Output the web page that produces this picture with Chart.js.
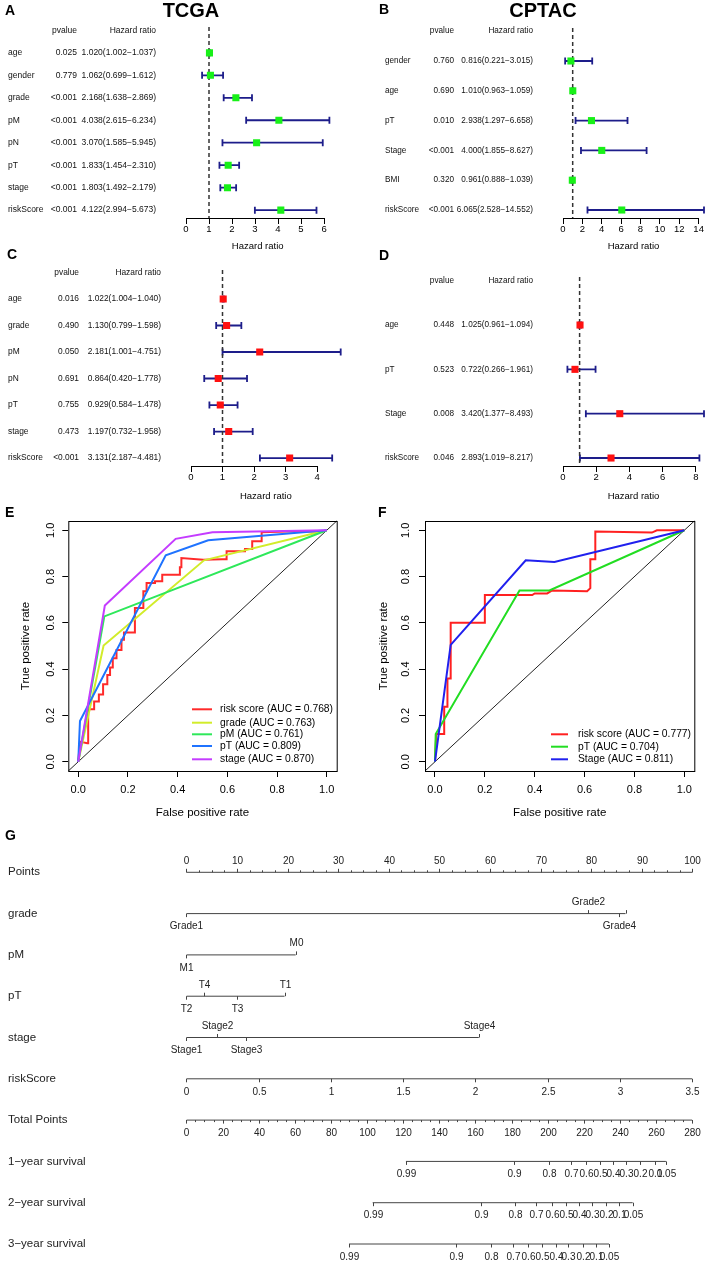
<!DOCTYPE html>
<html>
<head>
<meta charset="utf-8">
<script src="https://cdn.jsdelivr.net/npm/chart.js@4.4.1/dist/chart.umd.min.js"></script>
<style>
  body { margin: 0; background: #fff; }
  #wrap { position: relative; width: 709px; height: 1261px; overflow: hidden; background: #fff; }
  canvas { position: absolute; }
  .lab { position: absolute; font: bold 14px "Liberation Sans", Arial, sans-serif; line-height: 14px; color: #000; }
  .ttl { position: absolute; width: 120px; text-align: center; font: bold 20px "Liberation Sans", Arial, sans-serif; line-height: 20px; color: #000; }
</style>
</head>
<body>
<div id="wrap">
  <canvas id="fa" width="355" height="255" style="left:0;top:0"></canvas>
  <canvas id="fb" width="354" height="255" style="left:355px;top:0"></canvas>
  <canvas id="fc" width="355" height="270" style="left:0;top:235px"></canvas>
  <canvas id="fd" width="354" height="270" style="left:355px;top:235px"></canvas>
  <canvas id="re" width="355" height="325" style="left:0;top:500px"></canvas>
  <canvas id="rf" width="354" height="325" style="left:355px;top:500px"></canvas>
  <canvas id="nomo" width="709" height="421" style="left:0;top:840px"></canvas>

  <div class="lab" style="left:5px;top:3px">A</div>
  <div class="lab" style="left:379px;top:2px">B</div>
  <div class="lab" style="left:7px;top:247px">C</div>
  <div class="lab" style="left:379px;top:248px">D</div>
  <div class="lab" style="left:5px;top:505px">E</div>
  <div class="lab" style="left:378px;top:505px">F</div>
  <div class="lab" style="left:5px;top:828px">G</div>
  <div class="ttl" style="left:131px;top:0">TCGA</div>
  <div class="ttl" style="left:483px;top:0">CPTAC</div>
</div>
<script>
Chart.defaults.font.family = '"Liberation Sans", Arial, sans-serif'
Chart.defaults.color = '#000'

// ---- A: TCGA univariate Cox ----
const tcgaUniVars = ['age', 'gender', 'grade', 'pM', 'pN', 'pT', 'stage', 'riskScore']
const tcgaUniP    = ['0.025', '0.779', '<0.001', '<0.001', '<0.001', '<0.001', '<0.001', '<0.001']
const tcgaUniHR   = [1.020, 1.062, 2.168, 4.038, 3.070, 1.833, 1.803, 4.122]
const tcgaUniLow  = [1.002, 0.699, 1.638, 2.615, 1.585, 1.454, 1.492, 2.994]
const tcgaUniHigh = [1.037, 1.612, 2.869, 6.234, 5.945, 2.310, 2.179, 5.673]
const tcgaUniTicks = [0, 1, 2, 3, 4, 5, 6]

// ---- B: CPTAC univariate Cox ----
const cptacUniVars = ['gender', 'age', 'pT', 'Stage', 'BMI', 'riskScore']
const cptacUniP    = ['0.760', '0.690', '0.010', '<0.001', '0.320', '<0.001']
const cptacUniHR   = [0.816, 1.010, 2.938, 4.000, 0.961, 6.065]
const cptacUniLow  = [0.221, 0.963, 1.297, 1.855, 0.888, 2.528]
const cptacUniHigh = [3.015, 1.059, 6.658, 8.627, 1.039, 14.552]
const cptacUniTicks = [0, 2, 4, 6, 8, 10, 12, 14]

// ---- C: TCGA multivariate Cox ----
const tcgaMultiVars = ['age', 'grade', 'pM', 'pN', 'pT', 'stage', 'riskScore']
const tcgaMultiP    = ['0.016', '0.490', '0.050', '0.691', '0.755', '0.473', '<0.001']
const tcgaMultiHR   = [1.022, 1.130, 2.181, 0.864, 0.929, 1.197, 3.131]
const tcgaMultiLow  = [1.004, 0.799, 1.001, 0.420, 0.584, 0.732, 2.187]
const tcgaMultiHigh = [1.040, 1.598, 4.751, 1.778, 1.478, 1.958, 4.481]
const tcgaMultiTicks = [0, 1, 2, 3, 4]

// ---- D: CPTAC multivariate Cox ----
const cptacMultiVars = ['age', 'pT', 'Stage', 'riskScore']
const cptacMultiP    = ['0.448', '0.523', '0.008', '0.046']
const cptacMultiHR   = [1.025, 0.722, 3.420, 2.893]
const cptacMultiLow  = [0.961, 0.266, 1.377, 1.019]
const cptacMultiHigh = [1.094, 1.961, 8.493, 8.217]
const cptacMultiTicks = [0, 2, 4, 6, 8]

// ---- E: TCGA ROC ----
const rocTicks = [0, 0.2, 0.4, 0.6, 0.8, 1.0]
const eRiskFpr  = [0, 0.007, 0.036, 0.04, 0.04, 0.064, 0.064, 0.083, 0.083, 0.10, 0.10, 0.117, 0.117, 0.128, 0.128, 0.139, 0.139, 0.154, 0.154, 0.174, 0.174, 0.184, 0.184, 0.228, 0.228, 0.262, 0.262, 0.275, 0.275, 0.309, 0.309, 0.338, 0.338, 0.409, 0.409, 0.415, 0.415, 0.503, 0.58, 0.597, 0.597, 0.671, 0.671, 0.70, 0.70, 0.738, 0.738, 0.84, 0.98, 1]
const eRiskTpr  = [0, 0.087, 0.08, 0.08, 0.227, 0.227, 0.26, 0.26, 0.29, 0.29, 0.335, 0.335, 0.375, 0.375, 0.407, 0.407, 0.447, 0.447, 0.483, 0.483, 0.527, 0.527, 0.558, 0.558, 0.664, 0.664, 0.736, 0.736, 0.772, 0.772, 0.78, 0.78, 0.808, 0.808, 0.84, 0.84, 0.88, 0.873, 0.875, 0.875, 0.909, 0.909, 0.919, 0.919, 0.952, 0.952, 0.991, 0.995, 0.995, 1]
const eGradeFpr = [0, 0.102, 0.506, 1]
const eGradeTpr = [0, 0.502, 0.870, 1]
const ePmFpr    = [0, 0.105, 1]
const ePmTpr    = [0, 0.628, 1]
const ePtFpr    = [0, 0.007, 0.352, 0.523, 1]
const ePtTpr    = [0, 0.176, 0.892, 0.957, 1]
const eStageFpr = [0, 0.107, 0.392, 0.54, 1]
const eStageTpr = [0, 0.675, 0.963, 0.991, 1]
const eNames = ['risk score', 'grade', 'pM', 'pT', 'stage']
const eAuc   = [0.768, 0.763, 0.761, 0.809, 0.870]

// ---- F: CPTAC ROC ----
const fRiskFpr  = [0, 0.005, 0.037, 0.037, 0.05, 0.05, 0.063, 0.063, 0.20, 0.20, 0.39, 0.40, 0.45, 0.47, 0.61, 0.623, 0.623, 0.643, 0.643, 0.87, 0.89, 1]
const fRiskTpr  = [0, 0.12, 0.12, 0.238, 0.238, 0.36, 0.36, 0.60, 0.60, 0.72, 0.72, 0.727, 0.727, 0.74, 0.737, 0.75, 0.875, 0.875, 0.995, 0.99, 1.0, 1]
const fPtFpr    = [0, 0.003, 0.339, 0.459, 1]
const fPtTpr    = [0, 0.12, 0.74, 0.74, 1]
const fStageFpr = [0, 0.063, 0.364, 0.479, 1]
const fStageTpr = [0, 0.505, 0.870, 0.863, 1]
const fNames = ['risk score', 'pT', 'Stage']
const fAuc   = [0.777, 0.704, 0.811]

// ---- G: nomogram ----
const pointsTicks = [0, 10, 20, 30, 40, 50, 60, 70, 80, 90, 100]
const gradeLevels = ['Grade1', 'Grade2', 'Grade4', '']
const gradePts    = [0, 79.3, 85.6, 86.8]
const pmLevels    = ['M1', 'M0']
const pmPts       = [0, 21.6]
const ptLevels    = ['T2', 'T4', 'T3', 'T1']
const ptPts       = [0, 3.4, 10.1, 19.4]
const stageLevels = ['Stage1', 'Stage2', 'Stage3', 'Stage4']
const stagePts    = [0, 6.0, 11.7, 57.8]
const riskTicks   = [0, 0.5, 1, 1.5, 2, 2.5, 3, 3.5]
const totalTicks  = [0, 20, 40, 60, 80, 100, 120, 140, 160, 180, 200, 220, 240, 260, 280]
const survLabels  = ['0.99', '0.9', '0.8', '0.7', '0.6', '0.5', '0.4', '0.3', '0.2', '0.1', '0.05']
const surv1yTotal = [121.5, 181.3, 200.7, 212.6, 221.4, 228.9, 235.9, 243.2, 250.8, 259.1, 265.4]
const surv2yTotal = [103.1, 162.8, 181.6, 193.7, 202.5, 210.0, 217.1, 224.7, 232.2, 239.7, 247.0]
const surv3yTotal = [90.0, 149.4, 168.5, 180.6, 189.2, 196.7, 204.3, 211.3, 219.3, 226.9, 233.9]

const FONT = '"Liberation Sans", Arial, sans-serif'

// forest plot: text columns, whiskers, dashed line at HR = 1
function forestPlugin(o) {
  return {
    id: 'forestDecor',
    beforeDatasetsDraw(chart) {
      const {ctx, chartArea, scales: {x, y}} = chart
      ctx.save()
      ctx.strokeStyle = '#1d1d8a'
      ctx.lineWidth = 1.8
      o.vars.forEach((v, i) => {
        const py = y.getPixelForValue(i)
        const x0 = x.getPixelForValue(o.lo[i])
        const x1 = x.getPixelForValue(o.hi[i])
        ctx.beginPath()
        ctx.moveTo(x0, py); ctx.lineTo(x1, py)
        ctx.moveTo(x0, py - 3.5); ctx.lineTo(x0, py + 3.5)
        ctx.moveTo(x1, py - 3.5); ctx.lineTo(x1, py + 3.5)
        ctx.stroke()
      })
      // reference line
      const px1 = x.getPixelForValue(1)
      ctx.strokeStyle = '#333'
      ctx.lineWidth = 1.5
      ctx.setLineDash([4, 3])
      ctx.beginPath()
      ctx.moveTo(px1, chartArea.top); ctx.lineTo(px1, chartArea.bottom)
      ctx.stroke()
      ctx.restore()
    },
    afterDraw(chart) {
      const {ctx, chartArea, scales: {x, y}} = chart
      ctx.save()
      // axis line only over the tick range
      ctx.strokeStyle = '#000'
      ctx.lineWidth = 1
      ctx.beginPath()
      ctx.moveTo(x.getPixelForValue(o.ticks[0]), chartArea.bottom + 0.5)
      ctx.lineTo(x.getPixelForValue(o.ticks[o.ticks.length - 1]), chartArea.bottom + 0.5)
      ctx.stroke()

      ctx.fillStyle = '#111'
      ctx.font = o.fs + 'px ' + FONT
      ctx.textBaseline = 'middle'
      const hy = y.getPixelForValue(-1)
      ctx.textAlign = 'right'
      ctx.fillText('pvalue', o.colP, hy)
      ctx.fillText('Hazard ratio', o.colHR, hy)
      o.vars.forEach((v, i) => {
        const py = y.getPixelForValue(i)
        ctx.textAlign = 'left'
        ctx.fillText(v, o.colVar, py)
        ctx.textAlign = 'right'
        ctx.fillText(o.p[i], o.colP, py)
        const txt = o.hr[i].toFixed(3) + '(' + o.lo[i].toFixed(3) + '\u2212' + o.hi[i].toFixed(3) + ')'
        ctx.fillText(txt, o.colHR, py)
      })
      ctx.restore()
    }
  }
}

function forest(id, o) {
  new Chart(document.getElementById(id), {
    type: 'scatter',
    data: {
      datasets: [{
        data: o.hr.map((v, i) => ({x: v, y: i})),
        pointStyle: 'rect',
        pointRadius: 5,
        pointHoverRadius: 5,
        backgroundColor: o.color,
        borderWidth: 0
      }]
    },
    options: {
      responsive: false,
      animation: false,
      events: [],
      layout: { padding: { left: o.area.left, right: o.w - o.area.right, top: o.area.top, bottom: 0 } },
      plugins: { legend: { display: false }, tooltip: { enabled: false } },
      scales: {
        x: {
          type: 'linear',
          min: 0,
          max: Math.max(...o.hi),
          afterBuildTicks: s => { s.ticks = o.ticks.map(v => ({value: v})) },
          afterFit: s => { s.height = o.h - o.area.bottom },
          grid: { drawOnChartArea: false, drawTicks: true, tickLength: 6, color: '#000', lineWidth: 1 },
          border: { display: false },
          ticks: { font: { size: 9.5 }, color: '#000', padding: 0, maxRotation: 0, autoSkip: false },
          title: { display: true, text: 'Hazard ratio', font: { size: 9.5 }, color: '#000', padding: { top: 0, bottom: 3.3 } }
        },
        y: { type: 'linear', display: false, reverse: true, min: o.yMin, max: o.yMax }
      }
    },
    plugins: [forestPlugin(o)]
  })
}

forest('fa', {
  vars: tcgaUniVars, p: tcgaUniP, hr: tcgaUniHR, lo: tcgaUniLow, hi: tcgaUniHigh, ticks: tcgaUniTicks,
  color: '#18f018', w: 355, h: 255, area: { left: 186, right: 329.4, top: 27, bottom: 218 },
  yMin: -1.15, yMax: 7.35, fs: 8.5, colVar: 8, colP: 77, colHR: 156
})
forest('fb', {
  vars: cptacUniVars, p: cptacUniP, hr: cptacUniHR, lo: cptacUniLow, hi: cptacUniHigh, ticks: cptacUniTicks,
  color: '#18f018', w: 354, h: 255, area: { left: 208, right: 352.5, top: 28, bottom: 218 },
  yMin: -1.107, yMax: 5.268, fs: 8.2, colVar: 30, colP: 99, colHR: 178
})
forest('fc', {
  vars: tcgaMultiVars, p: tcgaMultiP, hr: tcgaMultiHR, lo: tcgaMultiLow, hi: tcgaMultiHigh, ticks: tcgaMultiTicks,
  color: '#ff1010', w: 355, h: 270, area: { left: 191, right: 340.7, top: 35, bottom: 231 },
  yMin: -1.094, yMax: 6.30, fs: 8.4, colVar: 8, colP: 79, colHR: 161
})
forest('fd', {
  vars: cptacMultiVars, p: cptacMultiP, hr: cptacMultiHR, lo: cptacMultiLow, hi: cptacMultiHigh, ticks: cptacMultiTicks,
  color: '#ff1010', w: 354, h: 270, area: { left: 208, right: 351.3, top: 42, bottom: 231 },
  yMin: -1.083, yMax: 3.18, fs: 8.2, colVar: 30, colP: 99, colHR: 178
})

// ROC: box, diagonal and legend in R style
function rocPlugin(o) {
  return {
    id: 'rocDecor',
    beforeDatasetsDraw(chart) {
      const {ctx, scales: {x, y}} = chart
      ctx.save()
      ctx.strokeStyle = '#222'
      ctx.lineWidth = 1
      ctx.beginPath()
      ctx.moveTo(x.getPixelForValue(x.min), y.getPixelForValue(y.min))
      ctx.lineTo(x.getPixelForValue(x.max), y.getPixelForValue(y.max))
      ctx.stroke()
      ctx.restore()
    },
    afterDraw(chart) {
      const {ctx, chartArea: a} = chart
      ctx.save()
      ctx.strokeStyle = '#000'
      ctx.lineWidth = 1
      ctx.strokeRect(a.left + 0.5, a.top + 0.5, a.right - a.left, a.bottom - a.top)
      ctx.font = '10.3px ' + FONT
      ctx.textBaseline = 'middle'
      ctx.textAlign = 'left'
      chart.data.datasets.forEach((ds, i) => {
        const ly = o.legendY[i]
        ctx.strokeStyle = ds.borderColor
        ctx.lineWidth = 2
        ctx.beginPath()
        ctx.moveTo(o.legendX0, ly); ctx.lineTo(o.legendX1, ly)
        ctx.stroke()
        ctx.fillStyle = '#000'
        ctx.fillText(ds.label, o.legendText, ly)
      })
      ctx.restore()
    }
  }
}

function roc(id, o) {
  new Chart(document.getElementById(id), {
    type: 'scatter',
    data: {
      datasets: o.curves.map((c, i) => ({
        label: c.name + ' (AUC = ' + c.auc.toFixed(3) + ')',
        data: c.fpr.map((f, j) => ({x: f, y: c.tpr[j]})),
        showLine: true,
        borderColor: c.color,
        borderWidth: 2,
        pointRadius: 0,
        pointHoverRadius: 0,
        fill: false,
        order: -i
      }))
    },
    options: {
      responsive: false,
      animation: false,
      events: [],
      layout: { padding: { left: 0, right: o.w - o.area.right, top: o.area.top, bottom: 0 } },
      plugins: { legend: { display: false }, tooltip: { enabled: false } },
      scales: {
        x: {
          type: 'linear', min: -0.04, max: 1.04,
          afterBuildTicks: s => { s.ticks = rocTicks.map(v => ({value: v})) },
          afterFit: s => { s.height = o.h - o.area.bottom },
          grid: { drawOnChartArea: false, tickLength: 6, color: '#000' },
          border: { display: false },
          ticks: { font: { size: 11 }, color: '#000', padding: 6, maxRotation: 0, autoSkip: false, callback: v => v.toFixed(1) },
          title: { display: true, text: 'False positive rate', font: { size: 11.5 }, color: '#000', padding: { top: 0, bottom: 5.1 } }
        },
        y: {
          type: 'linear', min: -0.04, max: 1.04,
          afterBuildTicks: s => { s.ticks = rocTicks.map(v => ({value: v})) },
          afterFit: s => { s.width = o.area.left },
          grid: { drawOnChartArea: false, tickLength: 6, color: '#000' },
          border: { display: false },
          ticks: { font: { size: 11 }, color: '#000', padding: o.yTickPad, minRotation: 90, maxRotation: 90, crossAlign: 'center', autoSkip: false, callback: v => v.toFixed(1) },
          title: { display: true, text: 'True positive rate', font: { size: 11.5 }, color: '#000', padding: { top: o.yTitlePad, bottom: 0 } }
        }
      }
    },
    plugins: [rocPlugin(o)]
  })
}

roc('re', {
  w: 355, h: 325, area: { left: 68.3, right: 336.7, top: 21, bottom: 271 },
  yTickPad: 3.9, yTitlePad: 19.1,
  legendX0: 192, legendX1: 212, legendText: 220, legendY: [209.3, 222.7, 234.3, 246, 259.3],
  curves: [
    { name: eNames[0], auc: eAuc[0], fpr: eRiskFpr, tpr: eRiskTpr, color: '#ff2a2a' },
    { name: eNames[1], auc: eAuc[1], fpr: eGradeFpr, tpr: eGradeTpr, color: '#d2ec2a' },
    { name: eNames[2], auc: eAuc[2], fpr: ePmFpr, tpr: ePmTpr, color: '#2ee85a' },
    { name: eNames[3], auc: eAuc[3], fpr: ePtFpr, tpr: ePtTpr, color: '#1f73ff' },
    { name: eNames[4], auc: eAuc[4], fpr: eStageFpr, tpr: eStageTpr, color: '#c43cff' }
  ]
})
roc('rf', {
  w: 354, h: 325, area: { left: 70, right: 339.3, top: 21, bottom: 271 },
  yTickPad: 5.6, yTitlePad: 22.1,
  legendX0: 196, legendX1: 213, legendText: 223, legendY: [234.3, 246.7, 259.3],
  curves: [
    { name: fNames[0], auc: fAuc[0], fpr: fRiskFpr, tpr: fRiskTpr, color: '#ff2020' },
    { name: fNames[1], auc: fAuc[1], fpr: fPtFpr, tpr: fPtTpr, color: '#22dd22' },
    { name: fNames[2], auc: fAuc[2], fpr: fStageFpr, tpr: fStageTpr, color: '#2020ee' }
  ]
})

// nomogram rows (side: where the tick labels go)
const nomoRows = [
  { name: 'Points', axis: 'x', pos: pointsTicks, labels: pointsTicks.map(String), side: 'above', minor: 2.5 },
  { name: 'grade', axis: 'x', pos: gradePts, labels: gradeLevels, side: 'alt' },
  { name: 'pM', axis: 'x', pos: pmPts, labels: pmLevels, side: 'alt' },
  { name: 'pT', axis: 'x', pos: ptPts, labels: ptLevels, side: 'alt' },
  { name: 'stage', axis: 'x', pos: stagePts, labels: stageLevels, side: 'alt' },
  { name: 'riskScore', axis: 'xRisk', pos: riskTicks, labels: riskTicks.map(String), side: 'below' },
  { name: 'Total Points', axis: 'xTotal', pos: totalTicks, labels: totalTicks.map(String), side: 'below', minor: 5 },
  { name: '1\u2212year survival', axis: 'xTotal', pos: surv1yTotal, labels: survLabels, side: 'below' },
  { name: '2\u2212year survival', axis: 'xTotal', pos: surv2yTotal, labels: survLabels, side: 'below' },
  { name: '3\u2212year survival', axis: 'xTotal', pos: surv3yTotal, labels: survLabels, side: 'below' }
]

const nomoPlugin = {
  id: 'nomoDecor',
  afterDatasetsDraw(chart) {
    const {ctx, scales} = chart
    const y = scales.y
    ctx.save()
    ctx.strokeStyle = '#444'
    ctx.lineWidth = 1
    ctx.fillStyle = '#222'
    ctx.textBaseline = 'middle'
    nomoRows.forEach((r, row) => {
      const sx = scales[r.axis]
      const py = y.getPixelForValue(row)
      ctx.font = '11.5px ' + FONT
      ctx.textAlign = 'left'
      ctx.fillText(r.name, 8, py)
      const dir0 = r.side === 'above' ? -1 : 1
      if (r.minor) {
        const lo = Math.min(...r.pos), hi = Math.max(...r.pos)
        ctx.beginPath()
        for (let v = lo; v <= hi + 1e-9; v += r.minor) {
          const px = Math.round(sx.getPixelForValue(v)) + 0.5
          ctx.moveTo(px, py); ctx.lineTo(px, py + dir0 * 2)
        }
        ctx.stroke()
      }
      const order = r.pos.map((v, i) => i).sort((a, b) => r.pos[a] - r.pos[b])
      ctx.font = '10px ' + FONT
      ctx.textAlign = 'center'
      order.forEach((idx, k) => {
        const side = r.side === 'alt' ? (k % 2 === 0 ? 'below' : 'above') : r.side
        const dir = side === 'above' ? -1 : 1
        const px = Math.round(sx.getPixelForValue(r.pos[idx])) + 0.5
        ctx.beginPath()
        ctx.moveTo(px, py); ctx.lineTo(px, py + dir * 3.5)
        ctx.stroke()
        if (r.labels[idx]) ctx.fillText(r.labels[idx], px, py + (side === 'above' ? -11.3 : 13))
      })
    })
    ctx.restore()
  }
}

new Chart(document.getElementById('nomo'), {
  type: 'scatter',
  data: {
    datasets: nomoRows.map((r, row) => ({
      data: [{x: Math.min(...r.pos), y: row}, {x: Math.max(...r.pos), y: row}],
      xAxisID: r.axis,
      showLine: true,
      borderColor: '#444',
      borderWidth: 1,
      pointRadius: 0,
      pointHoverRadius: 0
    }))
  },
  options: {
    responsive: false,
    animation: false,
    events: [],
    layout: { padding: { left: 186.4, right: 16.7, top: 11.65, bottom: 4.6 } },
    plugins: { legend: { display: false }, tooltip: { enabled: false } },
    scales: {
      x: { type: 'linear', min: 0, max: 100, display: false },
      xRisk: { type: 'linear', axis: 'x', min: 0, max: 3.5, display: false },
      xTotal: { type: 'linear', axis: 'x', min: 0, max: 280, display: false },
      y: { type: 'linear', min: -0.5, max: 9.3, reverse: true, display: false }
    }
  },
  plugins: [nomoPlugin]
})
</script>
</body>
</html>
